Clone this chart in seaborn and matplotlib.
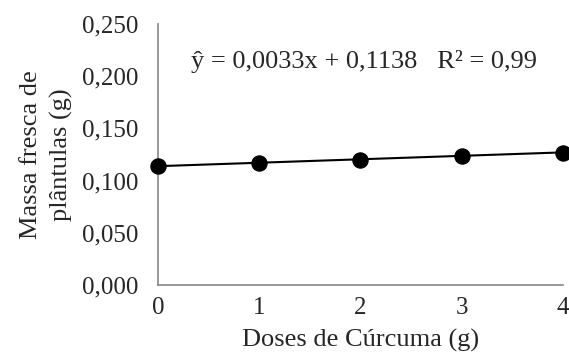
import matplotlib
matplotlib.use("Agg")
import matplotlib.pyplot as plt
import numpy as np
import pandas as pd
import seaborn as sns

# Doses de curcuma (g) e massa fresca de plantulas (g)
doses = [0, 1, 2, 3, 4]
massa = [0.114, 0.117, 0.120, 0.1235, 0.1265]
coef_a = 0.0033
coef_b = 0.1138
y_ticks = [0.0, 0.05, 0.10, 0.15, 0.20, 0.25]
y_labels = ["0,000", "0,050", "0,100", "0,150", "0,200", "0,250"]

df = pd.DataFrame({"dose": doses, "massa": massa})

sns.set_style("white")
plt.rcParams['font.family'] = ['Liberation Serif', 'DejaVu Serif']

fig = plt.figure(figsize=(5.69, 3.58), dpi=100)
ax = fig.add_axes([0.278, 0.204, 0.711, 0.729])

xfit = np.array([doses[0], doses[-1]])
ax.plot(xfit, coef_a * xfit + coef_b, color='black', lw=1.5, zorder=2)
sns.scatterplot(data=df, x='dose', y='massa', color='black', s=120,
                edgecolor='black', ax=ax, zorder=3, clip_on=False)

ax.set_xlim(0, 4)
ax.set_ylim(0, 0.25)
ax.set_xticks(doses)
ax.set_xticklabels([str(d) for d in doses], fontsize=18)
ax.set_yticks(y_ticks)
ax.set_yticklabels(y_labels, fontsize=18)
ax.tick_params(axis='both', direction='out', length=5, width=1, color='#868686')
ax.tick_params(axis='x', pad=4)
ax.tick_params(axis='y', pad=9)
for s in ['top', 'right']:
    ax.spines[s].set_visible(False)
for s in ['left', 'bottom']:
    ax.spines[s].set_color('#868686')
    ax.spines[s].set_linewidth(1.2)

ax.set_xlabel('Doses de Cúrcuma (g)', fontsize=19, labelpad=7)
ax.set_ylabel('Massa fresca de\nplântulas (g)', fontsize=19, labelpad=7,
              linespacing=1.4)

ax.text(0.08, 0.855, 'ŷ = 0,0033x + 0,1138   R² = 0,99', transform=ax.transAxes,
        fontsize=19, ha='left', va='center')

fig.savefig('out.png', dpi=100)
